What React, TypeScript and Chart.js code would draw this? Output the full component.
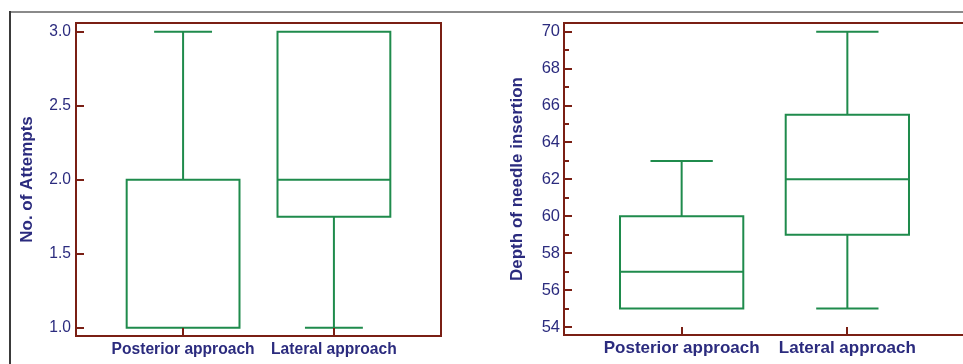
import React, { useEffect, useRef } from "react";
import { Chart, registerables } from "chart.js";
Chart.register(...registerables);

// ---------- data ----------
const categories = ["Posterior approach", "Lateral approach"];

const attemptsMin = [1, 1];
const attemptsQ1 = [1, 1.75];
const attemptsMedian = [1, 2];
const attemptsQ3 = [2, 3];
const attemptsMax = [3, 3];
const attemptsTicks = [1.0, 1.5, 2.0, 2.5, 3.0];
const attemptsMinorTicks: number[] = [];

const depthMin = [55, 55];
const depthQ1 = [55, 59];
const depthMedian = [57, 62];
const depthQ3 = [60, 65.5];
const depthMax = [63, 70];
const depthTicks = [54, 56, 58, 60, 62, 64, 66, 68, 70];
const depthMinorTicks = [55, 57, 59, 61, 63, 65, 67, 69];

// ---------- styles ----------
const GREEN = "#1f8b4c";
const FRAME = "#7a1f14";
const TEXT = "#2b2b7e";
const FONT = "'Liberation Sans', Arial, Helvetica, sans-serif";

type Pt = { x: number; y: number | null };

function boxPoints(
  mins: number[], q1s: number[], meds: number[], q3s: number[], maxs: number[],
  bw: number, cw: number
): Pt[] {
  const pts: Pt[] = [];
  const gap = (x: number) => pts.push({ x, y: null });
  categories.forEach((_, i) => {
    const x = i + 1;
    // box
    pts.push({ x, y: q1s[i] });
    pts.push({ x: x + bw, y: q1s[i] });
    pts.push({ x: x + bw, y: q3s[i] });
    pts.push({ x: x - bw, y: q3s[i] });
    pts.push({ x: x - bw, y: q1s[i] });
    pts.push({ x, y: q1s[i] });
    gap(x);
    // median
    pts.push({ x: x - bw, y: meds[i] });
    pts.push({ x: x + bw, y: meds[i] });
    gap(x);
    // upper whisker
    pts.push({ x, y: q3s[i] });
    pts.push({ x, y: maxs[i] });
    gap(x);
    pts.push({ x: x - cw, y: maxs[i] });
    pts.push({ x: x + cw, y: maxs[i] });
    gap(x);
    // lower whisker
    pts.push({ x, y: q1s[i] });
    pts.push({ x, y: mins[i] });
    gap(x);
    pts.push({ x: x - cw, y: mins[i] });
    pts.push({ x: x + cw, y: mins[i] });
    gap(x);
  });
  return pts;
}

type PanelProps = {
  width: number;
  height: number;
  left: number;
  points: Pt[];
  yMin: number;
  yMax: number;
  ticks: number[];
  minorTicks: number[];
  decimals: number;
  title: string;
  titlePad: number;
  axisWidth: number;
  axisHeight: number;
  padTop: number;
  padRight: number;
  tickFont: number;
  labelFont: number;
  labelPad: number;
  tickPad: number;
};

function Panel(p: PanelProps) {
  const ref = useRef<HTMLCanvasElement | null>(null);
  useEffect(() => {
    if (!ref.current) return;
    const framePlugin = {
      id: "frameTicks",
      afterDraw(chart: any) {
        const { ctx, chartArea: a } = chart;
        const ys = chart.scales.y;
        const xs = chart.scales.x;
        ctx.save();
        ctx.strokeStyle = FRAME;
        ctx.lineWidth = 2;
        ctx.lineCap = "butt";
        ctx.beginPath();
        p.ticks.forEach((v) => {
          const y = Math.round(ys.getPixelForValue(v)) + 0.0;
          ctx.moveTo(a.left, y);
          ctx.lineTo(a.left + 8, y);
        });
        p.minorTicks.forEach((v) => {
          const y = Math.round(ys.getPixelForValue(v));
          ctx.moveTo(a.left, y);
          ctx.lineTo(a.left + 5, y);
        });
        categories.forEach((_, i) => {
          const x = Math.round(xs.getPixelForValue(i + 1));
          ctx.moveTo(x, a.bottom);
          ctx.lineTo(x, a.bottom - 8);
        });
        ctx.stroke();
        ctx.strokeRect(a.left, a.top, a.right - a.left, a.bottom - a.top);
        ctx.restore();
      },
    };
    const chart = new Chart(ref.current, {
      type: "scatter",
      data: {
        datasets: [
          {
            data: p.points as any,
            showLine: true,
            spanGaps: false,
            pointRadius: 0,
            borderColor: GREEN,
            borderWidth: 2,
            borderCapStyle: "butt",
            borderJoinStyle: "miter",
            fill: false,
          } as any,
        ],
      },
      options: {
        animation: false,
        responsive: false,
        events: [],
        layout: { padding: { top: p.padTop, right: p.padRight, left: 0, bottom: 0 } },
        plugins: { legend: { display: false }, tooltip: { enabled: false } },
        scales: {
          x: {
            type: "linear",
            min: 0.29,
            max: 2.71,
            grid: { display: false, drawTicks: false },
            border: { display: false },
            afterBuildTicks: (s: any) => {
              s.ticks = categories.map((_, i) => ({ value: i + 1 }));
            },
            afterFit: (s: any) => {
              s.height = p.axisHeight;
            },
            ticks: {
              autoSkip: false,
              maxRotation: 0,
              padding: p.labelPad,
              color: TEXT,
              font: { family: FONT, size: p.labelFont, weight: "bold" },
              callback: (v: any) => categories[Math.round(Number(v)) - 1] ?? "",
            },
          },
          y: {
            type: "linear",
            min: p.yMin,
            max: p.yMax,
            grid: { display: false, drawTicks: false },
            border: { display: false },
            afterBuildTicks: (s: any) => {
              s.ticks = p.ticks.map((v) => ({ value: v }));
            },
            afterFit: (s: any) => {
              s.width = p.axisWidth;
            },
            ticks: {
              padding: p.tickPad,
              color: TEXT,
              font: { family: FONT, size: p.tickFont },
              callback: (v: any) => Number(v).toFixed(p.decimals),
            },
            title: {
              display: true,
              text: p.title,
              color: TEXT,
              font: { family: FONT, size: 17, weight: "bold" },
              padding: { top: p.titlePad, bottom: 0 },
            },
          },
        },
      } as any,
      plugins: [framePlugin],
    });
    return () => chart.destroy();
  }, []);
  return (
    <canvas
      ref={ref}
      width={p.width}
      height={p.height}
      style={{ position: "absolute", left: p.left, top: 0, width: p.width, height: p.height }}
    />
  );
}

export default function App() {
  const attemptsPts = boxPoints(attemptsMin, attemptsQ1, attemptsMedian, attemptsQ3, attemptsMax, 0.374, 0.192);
  const depthPts = boxPoints(depthMin, depthQ1, depthMedian, depthQ3, depthMax, 0.372, 0.188);
  return (
    <div
      style={{
        position: "fixed",
        left: 0,
        top: 0,
        width: 963,
        height: 364,
        overflow: "hidden",
        background: "#ffffff",
      }}
    >
      <Panel
        width={480}
        height={364}
        left={0}
        points={attemptsPts}
        yMin={0.944}
        yMax={3.059}
        ticks={attemptsTicks}
        minorTicks={attemptsMinorTicks}
        decimals={1}
        title="No. of Attempts"
        titlePad={17}
        axisWidth={76}
        axisHeight={28}
        padTop={23}
        padRight={39}
        tickFont={15.6}
        labelFont={15.6}
        labelPad={4}
        tickPad={5}
      />
      <Panel
        width={500}
        height={364}
        left={480}
        points={depthPts}
        yMin={53.57}
        yMax={70.47}
        ticks={depthTicks}
        minorTicks={depthMinorTicks}
        decimals={0}
        title="Depth of needle insertion"
        titlePad={27}
        axisWidth={84}
        axisHeight={29}
        padTop={23}
        padRight={15}
        tickFont={16.5}
        labelFont={17}
        labelPad={3}
        tickPad={4}
      />
      <div style={{ position: "absolute", left: 9, top: 11, width: 954, height: 0, borderTop: "2px solid #8a8a8a" }} />
      <div style={{ position: "absolute", left: 9, top: 11, width: 0, height: 353, borderLeft: "2px solid #3a3a3a" }} />
    </div>
  );
}
